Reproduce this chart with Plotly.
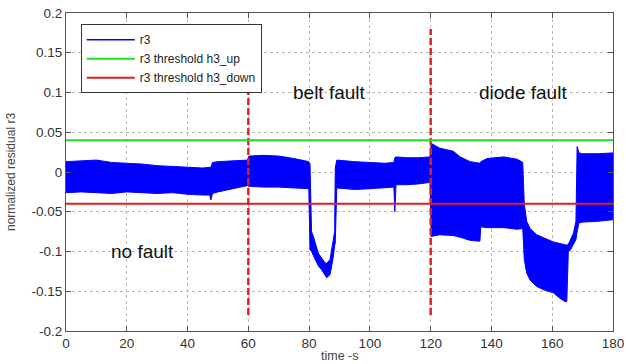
import plotly.graph_objects as go

# ---- data ----
time_s = [0, 5, 10, 15, 20, 25, 30, 35, 40, 45, 47.3, 47.7, 48.2, 50, 55, 59.8,
          60.2, 65, 70, 75, 79.9,
          80.3, 80.8, 81.4, 83.0, 84.1, 85.2, 85.8, 86.9, 87.4, 88.0, 88.4, 88.6, 89.1,
          95, 100, 105, 107.9, 108.2, 108.6, 112, 116, 119.8,
          120.2, 123, 127.5, 129.7, 133, 136.2, 136.5, 138.6, 144.1, 148.5, 150.3,
          150.8, 151.6, 152.7, 154.9, 157.1, 160.4, 162.6, 164.2, 164.8, 165.3, 166.0, 167.0, 167.8,
          168.2, 168.8, 170, 175, 180]
r3_upper = [0.013, 0.014, 0.015, 0.012, 0.011, 0.010, 0.008, 0.007, 0.006, 0.005, 0.006, 0.006, 0.012, 0.013, 0.014, 0.015,
            0.020, 0.021, 0.020, 0.017, 0.013,
            0.010, -0.075, -0.081, -0.102, -0.108, -0.114, -0.115, -0.110, -0.098, -0.085, -0.075, 0.005, 0.015,
            0.013, 0.012, 0.011, 0.012, 0.018, 0.019, 0.018, 0.018, 0.019,
            0.036, 0.030, 0.026, 0.019, 0.013, 0.011, 0.013, 0.017, 0.019, 0.016, 0.012,
            -0.040, -0.062, -0.071, -0.079, -0.083, -0.088, -0.090, -0.092, -0.092, -0.091, -0.086, -0.077, -0.062,
            0.032, 0.024, 0.023, 0.023, 0.024]
r3_lower = [-0.026, -0.025, -0.026, -0.027, -0.025, -0.026, -0.027, -0.026, -0.028, -0.029, -0.029, -0.035, -0.027, -0.025, -0.021, -0.017,
            -0.018, -0.019, -0.019, -0.020, -0.021,
            -0.098, -0.100, -0.105, -0.118, -0.123, -0.129, -0.133, -0.129, -0.120, -0.106, -0.092, -0.090, -0.020,
            -0.022, -0.021, -0.020, -0.019, -0.050, -0.016, -0.016, -0.015, -0.013,
            -0.081, -0.079, -0.080, -0.082, -0.086, -0.087, -0.069, -0.070, -0.070, -0.072, -0.071,
            -0.110, -0.127, -0.136, -0.144, -0.148, -0.152, -0.159, -0.163, -0.163, -0.100, -0.098, -0.090, -0.085,
            -0.075, -0.064, -0.063, -0.062, -0.060]

time_range = [0, 180]
threshold_up = 0.04
threshold_down = -0.04
fault_times = [60, 120]
fault_marker_span = [-0.18, 0.18]

x_ticks = [0, 20, 40, 60, 80, 100, 120, 140, 160, 180]
y_ticks = [-0.2, -0.15, -0.1, -0.05, 0, 0.05, 0.1, 0.15, 0.2]
y_tick_text = ["-0.2", "-0.15", "-0.1", "-0.05", "0", "0.05", "0.1", "0.15", "0.2"]

region_labels = ["no fault", "belt fault", "diode fault"]
region_x = [25.3, 86.8, 150.3]
region_y = [-0.1, 0.1, 0.1]

BLUE = "#0000ff"
GREEN = "#22dd22"
RED = "#e01e1e"
DASH_RED = "#d92424"
FONT = "Liberation Sans, Arial, sans-serif"

fig = go.Figure()

# r3 band (envelope of the dense signal)
fig.add_trace(go.Scatter(x=time_s, y=r3_lower, mode="lines",
                         line=dict(color=BLUE, width=1), showlegend=False,
                         hoverinfo="skip"))
fig.add_trace(go.Scatter(x=time_s, y=r3_upper, mode="lines",
                         line=dict(color=BLUE, width=1), fill="tonexty",
                         fillcolor=BLUE, showlegend=False, hoverinfo="skip"))

# fault onset markers
for ft in fault_times:
    fig.add_trace(go.Scatter(x=[ft, ft], y=fault_marker_span, mode="lines",
                             line=dict(color=DASH_RED, width=2.5, dash="7px,3px"),
                             showlegend=False, hoverinfo="skip"))

# legend entries / thresholds
fig.add_trace(go.Scatter(x=[None], y=[None], mode="lines",
                         line=dict(color=BLUE, width=1.5), name="r3"))
fig.add_trace(go.Scatter(x=time_range, y=[threshold_up, threshold_up], mode="lines",
                         line=dict(color=GREEN, width=2), name="r3 threshold h3_up"))
fig.add_trace(go.Scatter(x=time_range, y=[threshold_down, threshold_down], mode="lines",
                         line=dict(color=RED, width=2), name="r3 threshold h3_down"))

for txt, xx, yy in zip(region_labels, region_x, region_y):
    fig.add_annotation(x=xx, y=yy, text=txt, showarrow=False,
                       font=dict(family=FONT, size=19, color="#111111"),
                       xanchor="center", yanchor="middle")

# axis titles
fig.add_annotation(xref="paper", yref="paper", x=0, y=0.5, xshift=-55,
                   text="normalized residual r3", textangle=-90, showarrow=False,
                   font=dict(family=FONT, size=12, color="#444444"),
                   xanchor="center", yanchor="middle")
fig.add_annotation(xref="paper", yref="paper", x=0.5, y=0, yshift=-25,
                   text="time -s", showarrow=False,
                   font=dict(family=FONT, size=12.5, color="#444444"),
                   xanchor="center", yanchor="middle")

axis_common = dict(showline=True, linecolor="#555555", linewidth=1, mirror="ticks",
                   ticks="inside", ticklen=5, tickcolor="#555555",
                   showgrid=True, gridcolor="#b8b8b8", griddash="dot", gridwidth=1,
                   zeroline=False, automargin=False,
                   tickfont=dict(family=FONT, size=13.5, color="#333333"))

fig.update_xaxes(range=time_range, tickvals=x_ticks, **axis_common)
fig.update_yaxes(range=[y_ticks[0], y_ticks[-1]], tickvals=y_ticks, ticktext=y_tick_text,
                 **axis_common)

fig.update_layout(
    width=626, height=364,
    margin=dict(l=66, r=13, t=13, b=33),
    paper_bgcolor="white", plot_bgcolor="white",
    showlegend=True,
    legend=dict(x=0.027, y=0.965, xanchor="left", yanchor="top",
                bgcolor="white", bordercolor="#333333", borderwidth=1,
                font=dict(family=FONT, size=12, color="#222222"),
                traceorder="normal", tracegroupgap=0, itemwidth=48),
    font=dict(family=FONT),
)

fig.write_html("out.html", config={"displayModeBar": False},
               post_script="document.body.style.margin='0';")
